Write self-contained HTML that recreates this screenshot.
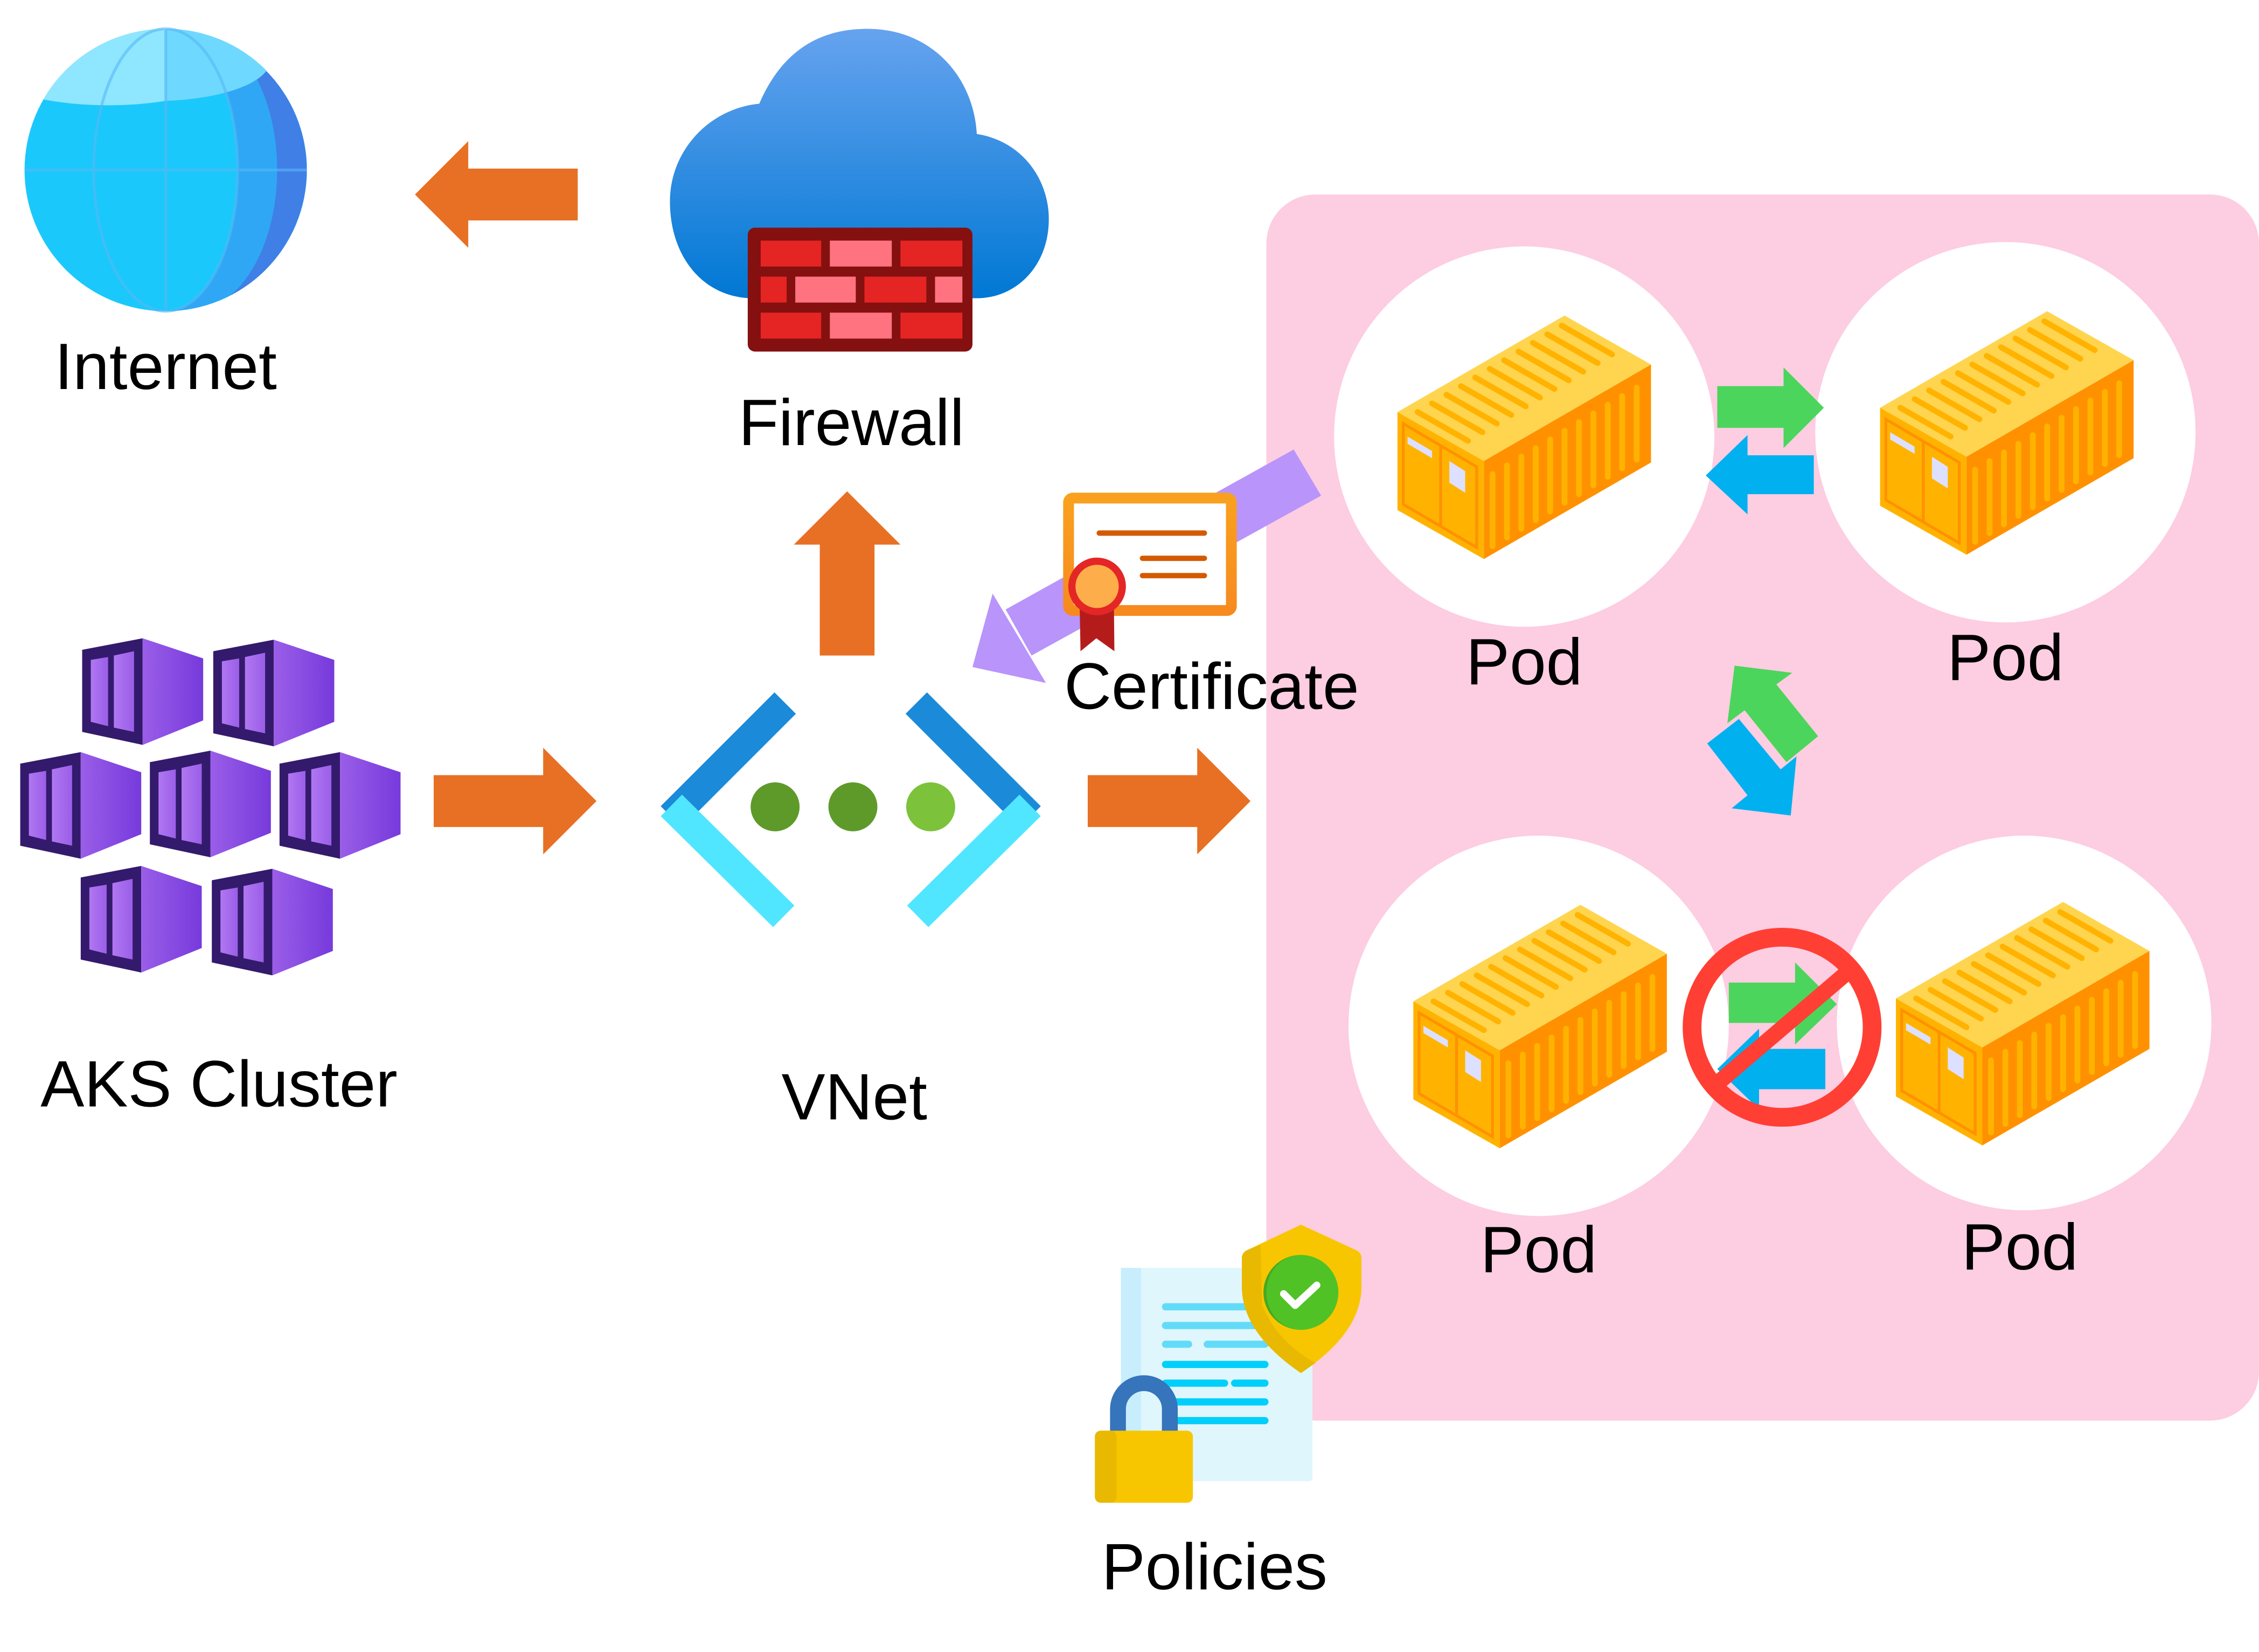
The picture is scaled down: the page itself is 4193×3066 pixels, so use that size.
<!DOCTYPE html>
<html><head><meta charset="utf-8"><style>
html,body{margin:0;padding:0;background:#fff;}
svg{display:block;}
text{font-family:"Liberation Sans","DejaVu Sans",sans-serif;font-size:45.5px;fill:#000;text-anchor:middle;}
</style></head><body>
<svg width="4193" height="3066" viewBox="0 0 1568 1146.6" xmlns="http://www.w3.org/2000/svg">
<defs>
<linearGradient id="cloudg" x1="0" y1="0" x2="0" y2="1"><stop offset="0" stop-color="#66a3ef"/><stop offset="1" stop-color="#0078d4"/></linearGradient>
<linearGradient id="cubeR" x1="0" y1="0" x2="1" y2="0"><stop offset="0" stop-color="#9a5ee8"/><stop offset="1" stop-color="#773adc"/></linearGradient>
<linearGradient id="cubeW" x1="0" y1="0" x2="1" y2="0"><stop offset="0" stop-color="#b077f2"/><stop offset="1" stop-color="#9a5ee8"/></linearGradient>
<linearGradient id="certg" x1="0" y1="0" x2="0" y2="1"><stop offset="0" stop-color="#f9a11f"/><stop offset="1" stop-color="#f78a1f"/></linearGradient>
<g id="cube">
 <polygon points="0,8 42,0 42,74 0,65" fill="#341a6c"/>
 <polygon points="42,0 84,14 84,57 42,74" fill="url(#cubeR)"/>
 <polygon points="6,15 18,13 18,61 6,58" fill="url(#cubeW)"/>
 <polygon points="22,12 36,9 36,65 22,62" fill="url(#cubeW)"/>
</g>
<g id="box">
 <polygon points="0,67 116,0 176,34 60,101" fill="#ffd54f"/>
 <polygon points="0,67 60,101 60,169 0,135" fill="#ffb300"/>
 <polygon points="60,101 176,34 176,102 60,169" fill="#ff9100"/>
 <g stroke="#ffb300" stroke-width="4" stroke-linecap="round">
  <line x1="14" y1="67" x2="49" y2="87"/><line x1="24" y1="61" x2="59" y2="81"/>
  <line x1="34" y1="55" x2="69" y2="75"/><line x1="44" y1="49" x2="79" y2="69"/>
  <line x1="54" y1="43" x2="89" y2="63"/><line x1="64" y1="37" x2="99" y2="57"/>
  <line x1="74" y1="31" x2="109" y2="51"/><line x1="84" y1="25" x2="119" y2="45"/>
  <line x1="94" y1="19" x2="129" y2="39"/><line x1="104" y1="13" x2="139" y2="33"/>
  <line x1="114" y1="7" x2="149" y2="27"/>
  <line x1="66" y1="110" x2="66" y2="160"/><line x1="76" y1="104" x2="76" y2="154"/>
  <line x1="86" y1="98" x2="86" y2="148"/><line x1="96" y1="92" x2="96" y2="142"/>
  <line x1="106" y1="86" x2="106" y2="136"/><line x1="116" y1="80" x2="116" y2="130"/>
  <line x1="126" y1="74" x2="126" y2="124"/><line x1="136" y1="68" x2="136" y2="118"/>
  <line x1="146" y1="62" x2="146" y2="112"/><line x1="156" y1="56" x2="156" y2="106"/>
  <line x1="166" y1="50" x2="166" y2="100"/>
 </g>
 <polygon points="4,75 55,105 55,161 4,131" fill="none" stroke="#ff9100" stroke-width="2"/>
 <line x1="30" y1="90" x2="30" y2="147" stroke="#ff9100" stroke-width="2"/>
 <polygon points="7,84 24,94 24,99 7,89" fill="#dde0ff"/>
 <polygon points="36,101 47,108 47,123 36,116" fill="#dde0ff"/>
</g>
</defs>

<rect x="879" y="135" width="689" height="851" rx="34" fill="#fdcde2"/>

<circle cx="115" cy="118" r="98" fill="#1bc8fb"/>
<path d="M115,20 A98,98 0 0 1 115,216 A50,98 0 0 0 115,20Z" fill="#2fa7f5"/>
<path d="M160,31 A98,98 0 0 1 160,205 A60,98 0 0 0 160,31Z" fill="#3f7fe6"/>
<path d="M115,20 A98,98 0 0 0 30,69 A90,30 0 0 0 115,70Z" fill="#8fe6ff"/>
<path d="M115,20 A98,98 0 0 1 185,49 A80,28 0 0 1 115,70Z" fill="#6fd8ff"/>
<g fill="none" stroke="#56b8f5" stroke-width="2" opacity="0.6">
<ellipse cx="115" cy="118" rx="50" ry="98"/><line x1="17" y1="118" x2="213" y2="118"/><line x1="115" y1="20" x2="115" y2="216"/>
</g>
<text x="115" y="270">Internet</text>

<polygon points="288,135 325,98 325,117 401,117 401,153 325,153 325,172" fill="#e87024"/>

<path d="M527,72 C545,30 575,20 602,20 C648,20 676,55 678,93 C710,98 728,125 728,152 C728,185 705,207 678,207 L520,207 C485,205 465,175 465,140 C465,103 494,75 527,72Z" fill="url(#cloudg)"/>
<rect x="519" y="158" width="156" height="86" rx="5" fill="#851010"/>
<rect x="528" y="167" width="42" height="18" fill="#e52424"/><rect x="576" y="167" width="43" height="18" fill="#ff7380"/><rect x="625" y="167" width="43" height="18" fill="#e52424"/>
<rect x="528" y="192" width="18" height="18" fill="#e52424"/><rect x="552" y="192" width="42" height="18" fill="#ff7380"/><rect x="600" y="192" width="43" height="18" fill="#e52424"/><rect x="649" y="192" width="19" height="18" fill="#ff7380"/>
<rect x="528" y="217" width="42" height="18" fill="#e52424"/><rect x="576" y="217" width="43" height="18" fill="#ff7380"/><rect x="625" y="217" width="43" height="18" fill="#e52424"/>
<text x="591" y="309">Firewall</text>

<polygon points="588,341 625,378 607,378 607,455 569,455 569,378 551,378" fill="#e87024"/>

<use href="#cube" x="57" y="443"/><use href="#cube" x="148" y="444"/>
<use href="#cube" x="14" y="522"/><use href="#cube" x="104" y="521"/><use href="#cube" x="194" y="522"/>
<use href="#cube" x="56" y="601"/><use href="#cube" x="147" y="603"/>
<text x="152" y="768">AKS Cluster</text>

<polygon points="301,538 377,538 377,519 414,556 377,593 377,574 301,574" fill="#e87024"/>
<polygon points="755,538 831,538 831,519 868,556 831,593 831,574 755,574" fill="#e87024"/>

<g stroke-width="21" fill="none" stroke-linecap="butt">
<line x1="545" y1="488" x2="466" y2="567" stroke="#1b8ad9"/>
<line x1="466" y1="559" x2="544" y2="636" stroke="#50e6ff"/>
<line x1="636" y1="488" x2="715" y2="567" stroke="#1b8ad9"/>
<line x1="715" y1="559" x2="637" y2="636" stroke="#50e6ff"/>
</g>
<circle cx="538" cy="560" r="17" fill="#5e9a2a"/><circle cx="592" cy="560" r="17" fill="#5e9a2a"/><circle cx="646" cy="560" r="17" fill="#7cc23a"/>
<text x="593" y="777">VNet</text>

<polygon points="898,312 917,344 716,455 698,423" fill="#b994fa"/>
<polygon points="689,412 675,463 726,474" fill="#b994fa"/>

<rect x="741.7" y="345.7" width="113" height="78" rx="3" fill="#fff" stroke="url(#certg)" stroke-width="7.5"/>
<g stroke="#d35a00" stroke-width="3.7" stroke-linecap="round">
<line x1="763" y1="370" x2="836" y2="370"/><line x1="793" y1="387.5" x2="836" y2="387.5"/><line x1="793" y1="399.5" x2="836" y2="399.5"/>
</g>
<polygon points="749,399 773,399 773.5,452 761,443 750,452" fill="#b41c1c"/>
<circle cx="761.5" cy="407" r="17.5" fill="#fdae4b" stroke="#e52626" stroke-width="5"/>
<text x="841" y="492">Certificate</text>

<circle cx="1058" cy="303" r="132" fill="#fff"/>
<circle cx="1392" cy="300" r="132" fill="#fff"/>
<circle cx="1068" cy="712" r="132" fill="#fff"/>
<circle cx="1405" cy="710" r="130" fill="#fff"/>
<use href="#box" x="970" y="219"/>
<use href="#box" x="1305" y="216"/>
<use href="#box" x="981" y="628"/>
<use href="#box" x="1316" y="626"/>
<text x="1058" y="475">Pod</text>
<text x="1392" y="472">Pod</text>
<text x="1068" y="883">Pod</text>
<text x="1402" y="881">Pod</text>

<polygon points="1192,268 1238,268 1238,255 1266,283 1238,311 1238,297 1192,297" fill="#4cd55c"/>
<polygon points="1259,316 1213,316 1213,302 1184,330 1213,357 1213,343 1259,343" fill="#00b0ef"/>

<polygon points="1204,462 1244,467 1233,475 1262,511 1240,529 1211,493 1199,502" fill="#4cd55c"/>
<polygon points="1207,499 1236,534 1247,525 1243,566 1202,561 1213,552 1185,516" fill="#00b0ef"/>

<polygon points="1200,682 1246,682 1246,668 1275,697 1246,725 1246,710 1200,710" fill="#4cd55c"/>
<polygon points="1267,728 1221,728 1221,714 1192,742 1221,770 1221,756 1267,756" fill="#00b0ef"/>
<circle cx="1237" cy="713" r="62.5" fill="none" stroke="#ff3f34" stroke-width="13"/>
<line x1="1192" y1="752" x2="1281" y2="676" stroke="#ff3f34" stroke-width="11"/>

<rect x="778" y="880" width="133" height="148" rx="2" fill="#dff6fc"/>
<rect x="778" y="880" width="14" height="148" fill="#c8eefd"/>
<g stroke-linecap="round" stroke-width="5">
<line x1="809" y1="907" x2="870" y2="907" stroke="#62dbf9"/>
<line x1="809" y1="920" x2="875" y2="920" stroke="#62dbf9"/>
<line x1="809" y1="933" x2="825" y2="933" stroke="#62dbf9"/><line x1="838" y1="933" x2="878" y2="933" stroke="#62dbf9"/>
<line x1="809" y1="947" x2="878" y2="947" stroke="#00cffa"/>
<line x1="809" y1="960" x2="850" y2="960" stroke="#00cffa"/><line x1="857" y1="960" x2="878" y2="960" stroke="#00cffa"/>
<line x1="809" y1="973" x2="878" y2="973" stroke="#00cffa"/>
<line x1="809" y1="986" x2="878" y2="986" stroke="#00cffa"/>
</g>
<path d="M903,850 L942,868 Q945,870 945,873 L945,893 Q945,925 903,953 Q862,925 862,893 L862,873 Q862,870 865,868Z" fill="#f8c600"/>
<path d="M903,953 Q862,925 862,893 L862,873 Q862,870 865,868 L875,864 L876,905 Q885,930 913,946Z" fill="#e8b900"/>
<circle cx="903" cy="897" r="26" fill="#50c225"/>
<path d="M903,871 A26,26 0 0 0 903,923 A24,26 0 0 1 903,871Z" fill="#46a822"/>
<polyline points="891,898 899,906 914,892" fill="none" stroke="#fff" stroke-width="5" stroke-linecap="round" stroke-linejoin="round"/>
<path d="M776,995 L776,978 A18,18 0 0 1 812,978 L812,995" fill="none" stroke="#3674bb" stroke-width="11"/>
<rect x="760" y="993" width="68" height="50" rx="4" fill="#f8c600"/>
<rect x="760" y="993" width="15" height="50" rx="4" fill="#e8b900"/>
<text x="843" y="1103">Policies</text>
</svg>
</body></html>
